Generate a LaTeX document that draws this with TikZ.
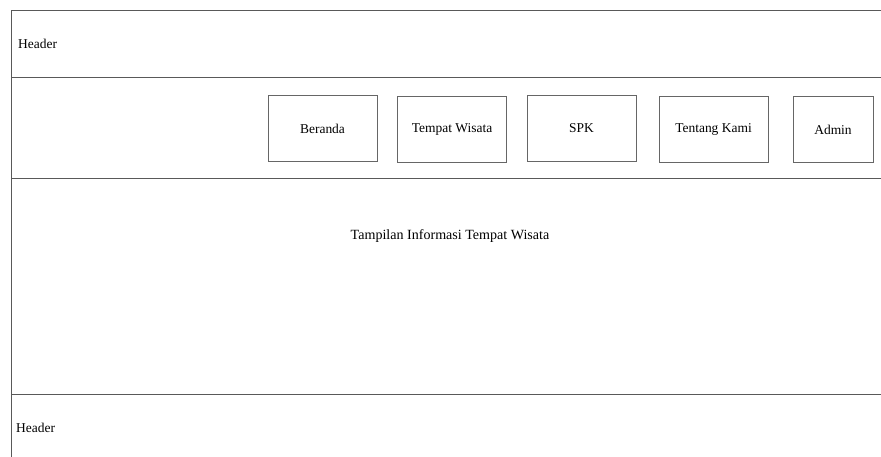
\documentclass[tikz,border=0pt]{standalone}
\usepackage{fontspec}
\setmainfont{Liberation Serif}
\usetikzlibrary{positioning}

\tikzset{
  frameline/.style={draw=black!65, line width=0.8pt},
  menubox/.style={draw=black!60, line width=0.6pt, minimum width=3.27cm, minimum height=1.98cm, inner sep=0pt, font=\fontsize{11.5}{13}\selectfont}
}

\begin{document}
\begin{tikzpicture}[x=0.03cm, y=-0.03cm]
\useasboundingbox (0,0) rectangle (881,457);

% frame corners
\coordinate (TL) at (11,10);
\coordinate (TR) at (881,10);
\coordinate (BL) at (11,457);
\draw[frameline] (TR) -- (TL) -- (BL);

% band lines
\coordinate (H1) at (11,77);
\coordinate (H1r) at (881,77);
\coordinate (H2) at (11,178);
\coordinate (H2r) at (881,178);
\coordinate (H3) at (11,394);
\coordinate (H3r) at (881,394);
\draw[frameline] (H1) -- (H1r);
\draw[frameline] (H2) -- (H2r);
\draw[frameline] (H3) -- (H3r);

% labels
\node (head) at (14,44) [anchor = west, font=\fontsize{11.5}{13}\selectfont] {Header};
\node (foot) at (12,428) [anchor = west, font=\fontsize{11.5}{13}\selectfont] {Header};
\node (info) at (450,236) [font=\fontsize{12}{14}\selectfont] {Tampilan Informasi Tempat Wisata};

% menu buttons
\node[menubox] (beranda) at (322.5,128.5) {Beranda};
\node[menubox] (wisata) at (452,129) {Tempat Wisata};
\node[menubox] (spk) at (581.5,128.5) {SPK};
\node[menubox] (kami) at (713.5,129.5) {Tentang Kami};
\node[menubox, minimum width=2.4cm] (admin) at (833,129.5) {Admin};

\end{tikzpicture}
\end{document}
